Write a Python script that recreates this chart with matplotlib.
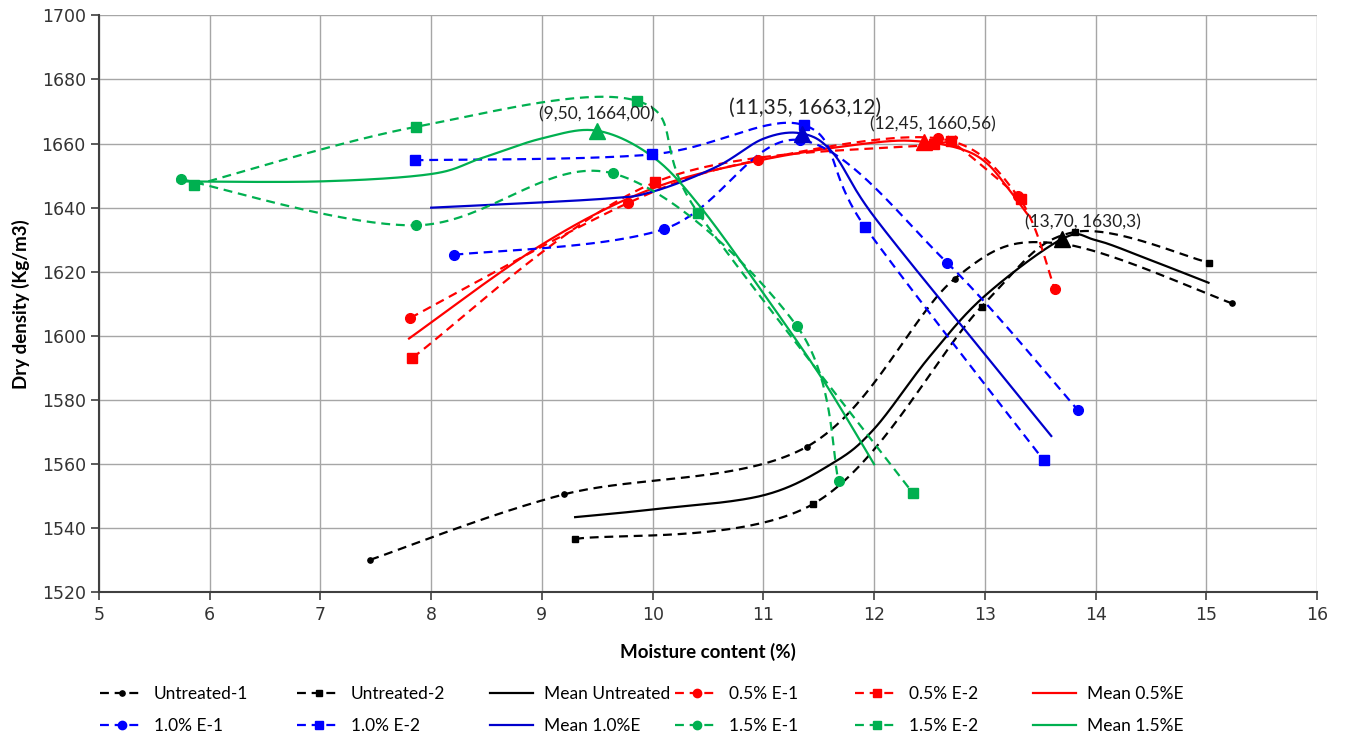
import numpy as np
import matplotlib.pyplot as plt
from matplotlib.lines import Line2D

# Compaction curves: moisture content (%) vs dry density (kg/m3)
u1_x = [7.45, 9.20, 11.39, 12.73, 13.66, 15.23]
u1_y = [1530.2, 1550.6, 1565.4, 1617.9, 1628.9, 1610.2]
u2_x = [9.30, 11.45, 12.97, 13.81, 15.02]
u2_y = [1536.7, 1547.6, 1609.1, 1632.4, 1622.9]
mu_x = [9.30, 10.0, 11.0, 11.62, 12.0, 12.5, 13.0, 13.70, 14.0, 14.5, 15.02]
mu_y = [1543.5, 1545.9, 1550.3, 1560.2, 1571.0, 1593.5, 1612.5, 1630.3, 1629.9, 1623.6, 1616.6]

e05_1_x = [7.81, 9.78, 10.95, 12.58, 13.30, 13.63]
e05_1_y = [1605.6, 1641.5, 1654.8, 1661.6, 1643.5, 1614.6]
e05_2_x = [7.83, 10.02, 12.54, 12.69, 13.33]
e05_2_y = [1593.2, 1647.9, 1659.8, 1660.8, 1642.7]
m05_x = [7.80, 9.0, 10.0, 11.0, 12.0, 12.45, 12.81, 13.02, 13.20, 13.39]
m05_y = [1599.2, 1628.5, 1646.0, 1655.0, 1660.3, 1660.56, 1658.0, 1653.8, 1646.5, 1637.7]

e10_1_x = [8.21, 10.10, 11.33, 12.66, 13.84]
e10_1_y = [1625.3, 1633.3, 1661.1, 1622.8, 1576.9]
e10_2_x = [7.85, 9.99, 11.37, 11.92, 13.53]
e10_2_y = [1654.8, 1656.6, 1665.7, 1633.9, 1561.3]
m10_x = [8.0, 9.53, 10.0, 10.58, 11.0, 11.35, 11.63, 12.0, 13.0, 13.60]
m10_y = [1640.0, 1642.7, 1645.0, 1652.8, 1661.5, 1663.12, 1657.0, 1637.2, 1594.3, 1568.8]

e15_1_x = [5.74, 7.86, 9.64, 11.30, 11.68]
e15_1_y = [1648.9, 1634.5, 1650.7, 1603.2, 1554.7]
e15_2_x = [5.86, 7.86, 9.86, 10.41, 12.35]
e15_2_y = [1647.0, 1665.2, 1673.3, 1638.4, 1551.0]
m15_x = [5.71, 7.0, 8.0, 8.45, 9.0, 9.50, 10.0, 10.43, 11.0, 11.54, 12.0]
m15_y = [1648.2, 1648.2, 1650.5, 1655.4, 1661.6, 1664.0, 1655.9, 1640.3, 1613.3, 1586.2, 1560.0]

# optimum points of the mean curves
peak_x = [13.70, 12.45, 11.35, 9.50]
peak_y = [1630.3, 1660.56, 1663.12, 1664.00]
peak_labels = ["(13,70, 1630,3)", "(12,45, 1660,56)", "(11,35, 1663,12)", "(9,50, 1664,00)"]

BLACK = "#000000"
RED = "#ff0000"
BLUE = "#0000ff"
DBLUE = "#0000cc"
GREEN = "#00b050"


def smooth(x, y, n=40):
    """Bezier smoothing through the points (like a spreadsheet 'smoothed line')."""
    p = np.column_stack([x, y]).astype(float)
    pts = np.vstack([p[0], p, p[-1]])
    t = np.linspace(0, 1, n)[:, None]
    segs = []
    for i in range(1, len(pts) - 2):
        p0, p1, p2, p3 = pts[i - 1], pts[i], pts[i + 1], pts[i + 2]
        c1 = p1 + (p2 - p0) / 6
        c2 = p2 - (p3 - p1) / 6
        segs.append((1 - t) ** 3 * p1 + 3 * (1 - t) ** 2 * t * c1
                    + 3 * (1 - t) * t ** 2 * c2 + t ** 3 * p2)
    s = np.vstack(segs)
    return s[:, 0], s[:, 1]


plt.rcParams['font.family'] = ['Lato', 'DejaVu Sans']

fig = plt.figure(figsize=(13.45, 7.42), dpi=100)
ax = fig.add_axes([0.0736, 0.2015, 0.9056, 0.7779])

DASH = (0, (4, 2.6))
LW = 1.6

series = [
    # x, y, colour, style, marker, marker size, label
    (u1_x, u1_y, BLACK, DASH, 'o', 3.8, "Untreated-1"),
    (u2_x, u2_y, BLACK, DASH, 's', 3.8, "Untreated-2"),
    (mu_x, mu_y, BLACK, '-', None, 0, "Mean Untreated"),
    (e05_1_x, e05_1_y, RED, DASH, 'o', 7, "0.5% E-1"),
    (e05_2_x, e05_2_y, RED, DASH, 's', 7, "0.5% E-2"),
    (m05_x, m05_y, RED, '-', None, 0, "Mean 0.5%E"),
    (e10_1_x, e10_1_y, BLUE, DASH, 'o', 7, "1.0% E-1"),
    (e10_2_x, e10_2_y, BLUE, DASH, 's', 7, "1.0% E-2"),
    (m10_x, m10_y, DBLUE, '-', None, 0, "Mean 1.0%E"),
    (e15_1_x, e15_1_y, GREEN, DASH, 'o', 7, "1.5% E-1"),
    (e15_2_x, e15_2_y, GREEN, DASH, 's', 7, "1.5% E-2"),
    (m15_x, m15_y, GREEN, '-', None, 0, "Mean 1.5%E"),
]

handles = []
for x, y, col, ls, mk, ms, lab in series:
    sx, sy = smooth(x, y)
    ax.plot(sx, sy, color=col, linestyle=ls, linewidth=LW, zorder=3)
    if mk:
        ax.plot(x, y, linestyle='none', marker=mk, markersize=ms, color=col, zorder=4)
    handles.append(Line2D([], [], color=col, linestyle=ls, linewidth=LW,
                          marker=mk, markersize=ms if ms < 5 else 6, label=lab))

peak_cols = [BLACK, RED, DBLUE, GREEN]
for px, py, col in zip(peak_x, peak_y, peak_cols):
    ax.plot(px, py, marker='^', markersize=11, color=col, linestyle='none', zorder=5)

# data labels of the optimum points
label_pos = [(13.89, 1635.3, 12.5), (12.53, 1665.9, 12.5), (11.38, 1671.1, 15), (9.50, 1669.2, 12.5)]
for (lx, ly, fs), txt in zip(label_pos, peak_labels):
    ax.text(lx, ly, txt, ha='center', va='center', fontsize=fs, color='#222222', zorder=6)

ax.set_xlim(5, 16)
ax.set_ylim(1520, 1700)
ax.set_xticks(np.arange(5, 17, 1))
ax.set_yticks(np.arange(1520, 1701, 20))
ax.grid(True, color='#a6a6a6', linewidth=1.0)
ax.set_axisbelow(True)
for s in ['top', 'right']:
    ax.spines[s].set_visible(False)
for s in ['left', 'bottom']:
    ax.spines[s].set_color('#404040')
    ax.spines[s].set_linewidth(1.5)
ax.tick_params(direction='out', length=6, width=1.2, color='#404040',
               labelsize=12.5, labelcolor='#333333')
for lab in ax.get_xticklabels() + ax.get_yticklabels():
    lab.set_family('DejaVu Sans')

ax.set_xlabel("Moisture content (%)", fontsize=13.5, fontweight='bold', labelpad=14)
ax.set_ylabel("Dry density (Kg/m3)", fontsize=13.5, fontweight='bold', labelpad=8)

# legend: six columns of two entries
col_x = [100, 297, 490, 675, 855, 1033]
for i, cx in enumerate(col_x):
    pair = [handles[i], handles[i + 6]]
    fig.legend(handles=pair, loc='upper left', bbox_to_anchor=(cx / 1345, 1 - 686 / 742),
               frameon=False, fontsize=12.5, handlelength=2.5, handletextpad=0.6,
               labelspacing=0.95, borderpad=0, borderaxespad=0)

fig.savefig("out.png", dpi=100)
